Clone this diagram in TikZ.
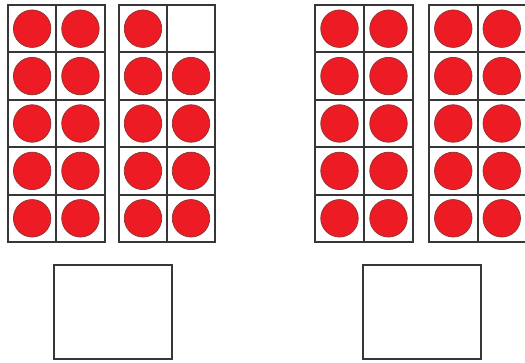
\documentclass[tikz,border=0pt]{standalone}
\definecolor{dotred}{RGB}{237,28,36}
\definecolor{dotedge}{RGB}{140,50,50}
\definecolor{gridc}{RGB}{55,55,55}
\tikzset{
  gridline/.style={draw=gridc,line width=2pt},
  dot/.style={circle,fill=dotred,draw=dotedge,line width=0.7pt,minimum size=37.5pt,inner sep=0pt},
  answerbox/.style={draw=gridc,line width=2pt,fill=white}
}
\begin{document}
\begin{tikzpicture}[x=1pt,y=-1pt]
\useasboundingbox (0,0) rectangle (525,363);
\clip (0,0) rectangle (525,363);
\fill[white] (0,0) rectangle (525,363);
\foreach \fx/\fw/\fn in {8/48.3/f1,119/48/f2,315/49/f3,429/48.5/f4}{
  \foreach \r in {0,...,4}{
    \foreach \c in {0,1}{
      \coordinate (\fn-\r-\c) at ({\fx+(\c+0.5)*\fw},{5+(\r+0.5)*47.4});
    }
  }
}
\foreach \fn in {f1,f2,f3,f4}{
  \foreach \r in {0,...,4}{
    \foreach \c in {0,1}{
      \pgfmathtruncatemacro{\isempty}{and(equal(\r,0),equal(\c,1))}
      \edef\tmpname{\fn}
      \def\ftwo{f2}
      \ifx\tmpname\ftwo
        \ifnum\isempty=0 \node[dot] (d-\fn-\r-\c) at (\fn-\r-\c) {};\fi
      \else
        \node[dot] (d-\fn-\r-\c) at (\fn-\r-\c) {};
      \fi
    }
  }
}
\foreach \fx/\fw in {8/48.3,119/48,315/49,429/48.5}{
  \draw[gridline] (\fx,5) rectangle ({\fx+2*\fw},242);
  \draw[gridline] ({\fx+\fw},5) -- ({\fx+\fw},242);
  \foreach \r in {1,...,4}{
    \draw[gridline] (\fx,{5+\r*47.4}) -- ({\fx+2*\fw},{5+\r*47.4});
  }
}
\node[answerbox,minimum width=118pt,minimum height=94pt] (ans1) at (113,312.5) {};
\node[answerbox,minimum width=118pt,minimum height=94pt] (ans2) at (422,312.5) {};
\end{tikzpicture}
\end{document}
